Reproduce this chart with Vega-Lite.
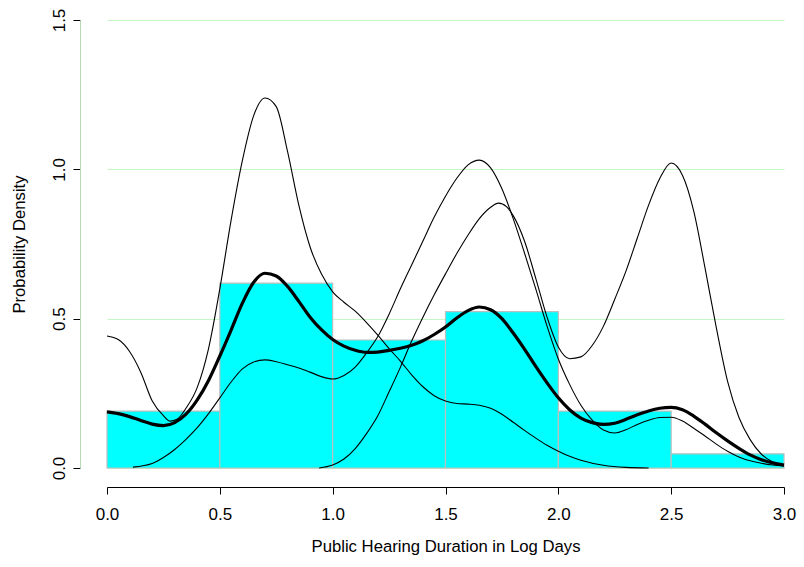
{
  "$schema": "https://vega.github.io/schema/vega-lite/v6.json",
  "autosize": "none",
  "width": 724,
  "height": 448,
  "padding": {"left": 80, "top": 20, "right": 0, "bottom": 99},
  "background": "white",
  "config": {
    "view": {"stroke": null},
    "font": "Liberation Sans",
    "axis": {"labelFont": "Liberation Sans", "titleFont": "Liberation Sans", "labelColor": "black", "titleColor": "black", "titleFontWeight": "normal"}
  },
  "datasets": {
    "bars": [
      {"lo": 0.0, "hi": 0.5, "density": 0.1905},
      {"lo": 0.5, "hi": 1.0, "density": 0.6190},
      {"lo": 1.0, "hi": 1.5, "density": 0.4286},
      {"lo": 1.5, "hi": 2.0, "density": 0.5238},
      {"lo": 2.0, "hi": 2.5, "density": 0.1905},
      {"lo": 2.5, "hi": 3.0, "density": 0.0476}
    ],
    "curves": [
      {"curve": "A", "x": 0.0, "y": 0.442}, {"curve": "A", "x": 0.05, "y": 0.43}, {"curve": "A", "x": 0.1, "y": 0.39}, {"curve": "A", "x": 0.15, "y": 0.32},
      {"curve": "A", "x": 0.2, "y": 0.225}, {"curve": "A", "x": 0.25, "y": 0.175}, {"curve": "A", "x": 0.28, "y": 0.157}, {"curve": "A", "x": 0.31, "y": 0.163},
      {"curve": "A", "x": 0.35, "y": 0.2}, {"curve": "A", "x": 0.4, "y": 0.27}, {"curve": "A", "x": 0.45, "y": 0.4}, {"curve": "A", "x": 0.5, "y": 0.6},
      {"curve": "A", "x": 0.55, "y": 0.83}, {"curve": "A", "x": 0.6, "y": 1.03}, {"curve": "A", "x": 0.65, "y": 1.18}, {"curve": "A", "x": 0.7, "y": 1.239},
      {"curve": "A", "x": 0.75, "y": 1.21}, {"curve": "A", "x": 0.8, "y": 1.06}, {"curve": "A", "x": 0.85, "y": 0.88}, {"curve": "A", "x": 0.9, "y": 0.74},
      {"curve": "A", "x": 0.95, "y": 0.65}, {"curve": "A", "x": 1.0, "y": 0.59}, {"curve": "A", "x": 1.05, "y": 0.555}, {"curve": "A", "x": 1.1, "y": 0.525},
      {"curve": "A", "x": 1.15, "y": 0.487}, {"curve": "A", "x": 1.2, "y": 0.445}, {"curve": "A", "x": 1.25, "y": 0.4}, {"curve": "A", "x": 1.3, "y": 0.358},
      {"curve": "A", "x": 1.35, "y": 0.312}, {"curve": "A", "x": 1.4, "y": 0.272}, {"curve": "A", "x": 1.45, "y": 0.242}, {"curve": "A", "x": 1.5, "y": 0.224},
      {"curve": "A", "x": 1.55, "y": 0.216}, {"curve": "A", "x": 1.6, "y": 0.214}, {"curve": "A", "x": 1.65, "y": 0.21}, {"curve": "A", "x": 1.7, "y": 0.2},
      {"curve": "A", "x": 1.75, "y": 0.18}, {"curve": "A", "x": 1.8, "y": 0.153}, {"curve": "A", "x": 1.85, "y": 0.126}, {"curve": "A", "x": 1.9, "y": 0.1},
      {"curve": "A", "x": 1.95, "y": 0.076}, {"curve": "A", "x": 2.0, "y": 0.056}, {"curve": "A", "x": 2.05, "y": 0.039}, {"curve": "A", "x": 2.1, "y": 0.026},
      {"curve": "A", "x": 2.2, "y": 0.009}, {"curve": "A", "x": 2.3, "y": 0.002}, {"curve": "A", "x": 2.4, "y": 0.0},

      {"curve": "D", "x": 0.115, "y": 0.003}, {"curve": "D", "x": 0.2, "y": 0.015}, {"curve": "D", "x": 0.25, "y": 0.035}, {"curve": "D", "x": 0.3, "y": 0.062},
      {"curve": "D", "x": 0.35, "y": 0.096}, {"curve": "D", "x": 0.4, "y": 0.135}, {"curve": "D", "x": 0.45, "y": 0.182}, {"curve": "D", "x": 0.5, "y": 0.235},
      {"curve": "D", "x": 0.55, "y": 0.288}, {"curve": "D", "x": 0.6, "y": 0.332}, {"curve": "D", "x": 0.65, "y": 0.355}, {"curve": "D", "x": 0.7, "y": 0.362},
      {"curve": "D", "x": 0.75, "y": 0.356}, {"curve": "D", "x": 0.8, "y": 0.346}, {"curve": "D", "x": 0.85, "y": 0.335}, {"curve": "D", "x": 0.9, "y": 0.321},
      {"curve": "D", "x": 0.95, "y": 0.306}, {"curve": "D", "x": 1.0, "y": 0.298}, {"curve": "D", "x": 1.05, "y": 0.31}, {"curve": "D", "x": 1.1, "y": 0.338},
      {"curve": "D", "x": 1.15, "y": 0.385}, {"curve": "D", "x": 1.2, "y": 0.44}, {"curve": "D", "x": 1.25, "y": 0.515}, {"curve": "D", "x": 1.3, "y": 0.6},
      {"curve": "D", "x": 1.35, "y": 0.68}, {"curve": "D", "x": 1.4, "y": 0.76}, {"curve": "D", "x": 1.45, "y": 0.84}, {"curve": "D", "x": 1.5, "y": 0.91},
      {"curve": "D", "x": 1.55, "y": 0.97}, {"curve": "D", "x": 1.6, "y": 1.015}, {"curve": "D", "x": 1.65, "y": 1.031}, {"curve": "D", "x": 1.7, "y": 1.005},
      {"curve": "D", "x": 1.75, "y": 0.935}, {"curve": "D", "x": 1.8, "y": 0.835}, {"curve": "D", "x": 1.85, "y": 0.72}, {"curve": "D", "x": 1.9, "y": 0.6},
      {"curve": "D", "x": 1.95, "y": 0.475}, {"curve": "D", "x": 2.0, "y": 0.365}, {"curve": "D", "x": 2.05, "y": 0.28}, {"curve": "D", "x": 2.1, "y": 0.21},
      {"curve": "D", "x": 2.15, "y": 0.16}, {"curve": "D", "x": 2.2, "y": 0.127}, {"curve": "D", "x": 2.25, "y": 0.117}, {"curve": "D", "x": 2.3, "y": 0.128},
      {"curve": "D", "x": 2.35, "y": 0.146}, {"curve": "D", "x": 2.4, "y": 0.16}, {"curve": "D", "x": 2.45, "y": 0.169}, {"curve": "D", "x": 2.5, "y": 0.17},
      {"curve": "D", "x": 2.55, "y": 0.157}, {"curve": "D", "x": 2.6, "y": 0.133}, {"curve": "D", "x": 2.65, "y": 0.107}, {"curve": "D", "x": 2.7, "y": 0.08},
      {"curve": "D", "x": 2.75, "y": 0.056}, {"curve": "D", "x": 2.8, "y": 0.037}, {"curve": "D", "x": 2.85, "y": 0.024}, {"curve": "D", "x": 2.9, "y": 0.016},
      {"curve": "D", "x": 2.95, "y": 0.01}, {"curve": "D", "x": 3.0, "y": 0.006},

      {"curve": "C", "x": 0.94, "y": 0.0}, {"curve": "C", "x": 1.0, "y": 0.01}, {"curve": "C", "x": 1.05, "y": 0.03}, {"curve": "C", "x": 1.1, "y": 0.065},
      {"curve": "C", "x": 1.15, "y": 0.115}, {"curve": "C", "x": 1.2, "y": 0.175}, {"curve": "C", "x": 1.25, "y": 0.255}, {"curve": "C", "x": 1.3, "y": 0.337},
      {"curve": "C", "x": 1.35, "y": 0.425}, {"curve": "C", "x": 1.4, "y": 0.505}, {"curve": "C", "x": 1.45, "y": 0.58}, {"curve": "C", "x": 1.5, "y": 0.65},
      {"curve": "C", "x": 1.55, "y": 0.718}, {"curve": "C", "x": 1.6, "y": 0.78}, {"curve": "C", "x": 1.65, "y": 0.835}, {"curve": "C", "x": 1.7, "y": 0.873},
      {"curve": "C", "x": 1.735, "y": 0.887}, {"curve": "C", "x": 1.77, "y": 0.875}, {"curve": "C", "x": 1.8, "y": 0.845}, {"curve": "C", "x": 1.85, "y": 0.76}, {"curve": "C", "x": 1.9, "y": 0.635},
      {"curve": "C", "x": 1.95, "y": 0.505}, {"curve": "C", "x": 2.0, "y": 0.405}, {"curve": "C", "x": 2.05, "y": 0.366}, {"curve": "C", "x": 2.1, "y": 0.372},
      {"curve": "C", "x": 2.15, "y": 0.41}, {"curve": "C", "x": 2.2, "y": 0.475}, {"curve": "C", "x": 2.25, "y": 0.565}, {"curve": "C", "x": 2.3, "y": 0.66},
      {"curve": "C", "x": 2.35, "y": 0.77}, {"curve": "C", "x": 2.4, "y": 0.88}, {"curve": "C", "x": 2.45, "y": 0.97}, {"curve": "C", "x": 2.5, "y": 1.021},
      {"curve": "C", "x": 2.55, "y": 0.98}, {"curve": "C", "x": 2.6, "y": 0.86}, {"curve": "C", "x": 2.65, "y": 0.67}, {"curve": "C", "x": 2.7, "y": 0.47},
      {"curve": "C", "x": 2.75, "y": 0.29}, {"curve": "C", "x": 2.8, "y": 0.17}, {"curve": "C", "x": 2.85, "y": 0.095}, {"curve": "C", "x": 2.9, "y": 0.046},
      {"curve": "C", "x": 2.95, "y": 0.02}, {"curve": "C", "x": 3.0, "y": 0.008}
    ],
    "overall": [
      {"x": 0.0, "y": 0.188}, {"x": 0.05, "y": 0.182}, {"x": 0.1, "y": 0.172}, {"x": 0.15, "y": 0.159}, {"x": 0.2, "y": 0.147},
      {"x": 0.25, "y": 0.142}, {"x": 0.3, "y": 0.152}, {"x": 0.35, "y": 0.18}, {"x": 0.4, "y": 0.228}, {"x": 0.45, "y": 0.293},
      {"x": 0.5, "y": 0.375}, {"x": 0.55, "y": 0.462}, {"x": 0.6, "y": 0.552}, {"x": 0.65, "y": 0.622}, {"x": 0.7, "y": 0.652},
      {"x": 0.75, "y": 0.643}, {"x": 0.8, "y": 0.608}, {"x": 0.85, "y": 0.558}, {"x": 0.9, "y": 0.505}, {"x": 0.95, "y": 0.463},
      {"x": 1.0, "y": 0.43}, {"x": 1.05, "y": 0.408}, {"x": 1.1, "y": 0.394}, {"x": 1.15, "y": 0.387}, {"x": 1.2, "y": 0.388},
      {"x": 1.25, "y": 0.394}, {"x": 1.3, "y": 0.401}, {"x": 1.35, "y": 0.411}, {"x": 1.4, "y": 0.426}, {"x": 1.45, "y": 0.447},
      {"x": 1.5, "y": 0.472}, {"x": 1.55, "y": 0.502}, {"x": 1.6, "y": 0.527}, {"x": 1.65, "y": 0.539}, {"x": 1.7, "y": 0.53},
      {"x": 1.75, "y": 0.5}, {"x": 1.8, "y": 0.452}, {"x": 1.85, "y": 0.398}, {"x": 1.9, "y": 0.34}, {"x": 1.95, "y": 0.285},
      {"x": 2.0, "y": 0.235}, {"x": 2.05, "y": 0.195}, {"x": 2.1, "y": 0.167}, {"x": 2.15, "y": 0.152}, {"x": 2.2, "y": 0.146},
      {"x": 2.25, "y": 0.15}, {"x": 2.3, "y": 0.163}, {"x": 2.35, "y": 0.178}, {"x": 2.4, "y": 0.191}, {"x": 2.45, "y": 0.2},
      {"x": 2.5, "y": 0.203}, {"x": 2.55, "y": 0.195}, {"x": 2.6, "y": 0.174}, {"x": 2.65, "y": 0.147}, {"x": 2.7, "y": 0.118},
      {"x": 2.75, "y": 0.091}, {"x": 2.8, "y": 0.066}, {"x": 2.85, "y": 0.044}, {"x": 2.9, "y": 0.028}, {"x": 2.95, "y": 0.017},
      {"x": 3.0, "y": 0.01}
    ]
  },
  "layer": [
    {
      "data": {"name": "bars"},
      "mark": {"type": "rect", "fill": "#00FFFF", "stroke": "#BEBEBE", "strokeWidth": 1.2},
      "encoding": {
        "x": {
          "field": "lo", "type": "quantitative",
          "scale": {"domain": [0, 3], "range": [27, 704], "nice": false, "zero": false},
          "axis": {
            "values": [0, 0.5, 1, 1.5, 2, 2.5, 3], "format": ".1f", "offset": 19, "grid": false,
            "domainColor": "black", "domainWidth": 1, "tickColor": "black", "tickWidth": 1, "tickSize": 7,
            "labelFontSize": 17, "labelPadding": 12, "labelBaseline": "top", "labelFlush": false, "labelOverlap": false, "labelBound": false,
            "title": "Public Hearing Duration in Log Days", "titleFontSize": 16.7, "titlePadding": 16
          }
        },
        "x2": {"field": "hi"},
        "y": {
          "field": "density", "type": "quantitative",
          "scale": {"domain": [0, 1.5], "nice": false, "zero": true},
          "axis": {
            "values": [0, 0.5, 1, 1.5], "format": ".1f",
            "grid": true, "gridColor": "#C4F7C4", "gridWidth": 1,
            "domainColor": "#B4DCB4", "domainWidth": 1, "tickColor": "black", "tickWidth": 1, "tickSize": 7,
            "labelFontSize": 17, "labelAngle": 270, "labelAlign": "center", "labelBaseline": "bottom", "labelPadding": 5, "labelFlush": false, "labelOverlap": false, "labelBound": false,
            "title": "Probability Density", "titleFontSize": 16.7, "titlePadding": 22
          }
        },
        "y2": {"datum": 0}
      }
    },
    {
      "data": {"name": "curves"},
      "mark": {"type": "line", "color": "black", "strokeWidth": 1.1, "interpolate": "monotone"},
      "encoding": {
        "x": {"field": "x", "type": "quantitative"},
        "y": {"field": "y", "type": "quantitative"},
        "detail": {"field": "curve", "type": "nominal"}
      }
    },
    {
      "data": {"name": "overall"},
      "mark": {"type": "line", "color": "black", "strokeWidth": 3.2, "interpolate": "monotone"},
      "encoding": {
        "x": {"field": "x", "type": "quantitative"},
        "y": {"field": "y", "type": "quantitative"}
      }
    }
  ]
}
